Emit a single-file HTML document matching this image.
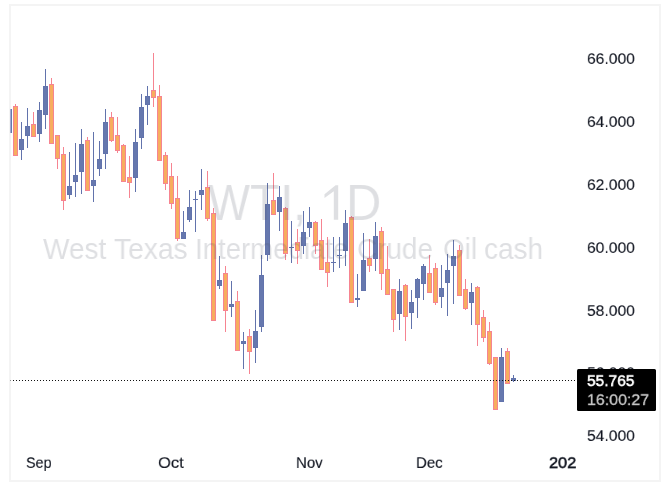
<!DOCTYPE html>
<html><head><meta charset="utf-8"><title>WTI 1D</title>
<style>
html,body{margin:0;padding:0;background:#fff;}
body{width:670px;height:500px;position:relative;overflow:hidden;font-family:"Liberation Sans",sans-serif;}
#frame{position:absolute;left:9px;top:4px;width:648px;height:474px;border:2px solid #f4f4f4;}
svg{position:absolute;left:0;top:0;}
#xclip{position:absolute;left:0;top:0;width:577px;height:500px;overflow:hidden;}
.t{position:absolute;white-space:nowrap;will-change:transform;transform-origin:0 0;color:#131722;}
.s{font-size:20px;line-height:20px;-webkit-text-stroke:0.15px #131722;}
.pl{left:587px;transform:scale(0.7828,0.76);}
.wm{color:rgba(80,85,100,0.19);}
.w1{top:177.9px;font-size:50.3px;line-height:50px;}
.w2{top:232.6px;font-size:29.4px;line-height:32px;}
#tag{position:absolute;left:577px;top:369px;width:79px;height:41.7px;background:#000;border-radius:1.5px;}
#tag .a{left:10.4px;top:3.7px;color:#fff;-webkit-text-stroke:0.75px #fff;transform:scale(0.7752,0.76);}
#tag .b{left:10px;top:22.9px;color:#c8c8c8;-webkit-text-stroke:0.4px #c8c8c8;transform:scale(0.7980,0.76);}
</style></head><body>
<div id="frame"></div>
<svg width="670" height="500" viewBox="0 0 670 500" shape-rendering="crispEdges">
<rect x="10" y="109" width="1" height="24" fill="#a3add0"/>
<rect x="11" y="109" width="1" height="24" fill="#6678ae"/>
<rect x="15" y="104" width="1" height="52" fill="#f68491"/>
<rect x="13" y="106" width="5" height="50" fill="#f68491"/>
<rect x="14" y="107" width="3" height="48" fill="#f7ad5e"/>
<rect x="21" y="122" width="1" height="38" fill="#6273ac"/>
<rect x="19" y="139" width="5" height="11" fill="#6273ac"/>
<rect x="20" y="140" width="3" height="9" fill="#6678ae"/>
<rect x="27" y="108" width="1" height="40" fill="#6273ac"/>
<rect x="25" y="126" width="5" height="10" fill="#6273ac"/>
<rect x="26" y="127" width="3" height="8" fill="#6678ae"/>
<rect x="33" y="112" width="1" height="25" fill="#f68491"/>
<rect x="31" y="124" width="5" height="13" fill="#f68491"/>
<rect x="32" y="125" width="3" height="11" fill="#f7ad5e"/>
<rect x="39" y="102" width="1" height="40" fill="#6273ac"/>
<rect x="37" y="110" width="5" height="24" fill="#6273ac"/>
<rect x="38" y="111" width="3" height="22" fill="#6678ae"/>
<rect x="45" y="69" width="1" height="60" fill="#6273ac"/>
<rect x="43" y="86" width="5" height="29" fill="#6273ac"/>
<rect x="44" y="87" width="3" height="27" fill="#6678ae"/>
<rect x="51" y="78" width="1" height="66" fill="#f68491"/>
<rect x="49" y="84" width="5" height="60" fill="#f68491"/>
<rect x="50" y="85" width="3" height="58" fill="#f7ad5e"/>
<rect x="57" y="135" width="1" height="34" fill="#f68491"/>
<rect x="55" y="135" width="5" height="24" fill="#f68491"/>
<rect x="56" y="136" width="3" height="22" fill="#f7ad5e"/>
<rect x="63" y="147" width="1" height="63" fill="#f68491"/>
<rect x="61" y="154" width="5" height="47" fill="#f68491"/>
<rect x="62" y="155" width="3" height="45" fill="#f7ad5e"/>
<rect x="69" y="152" width="1" height="47" fill="#6273ac"/>
<rect x="67" y="186" width="5" height="9" fill="#6273ac"/>
<rect x="68" y="187" width="3" height="7" fill="#6678ae"/>
<rect x="75" y="143" width="1" height="54" fill="#6273ac"/>
<rect x="73" y="175" width="5" height="7" fill="#6273ac"/>
<rect x="74" y="176" width="3" height="5" fill="#6678ae"/>
<rect x="81" y="129" width="1" height="65" fill="#6273ac"/>
<rect x="79" y="144" width="5" height="28" fill="#6273ac"/>
<rect x="80" y="145" width="3" height="26" fill="#6678ae"/>
<rect x="87" y="137" width="1" height="54" fill="#f68491"/>
<rect x="85" y="140" width="5" height="51" fill="#f68491"/>
<rect x="86" y="141" width="3" height="49" fill="#f7ad5e"/>
<rect x="93" y="132" width="1" height="70" fill="#6273ac"/>
<rect x="91" y="180" width="5" height="6" fill="#6273ac"/>
<rect x="92" y="181" width="3" height="4" fill="#6678ae"/>
<rect x="99" y="141" width="1" height="35" fill="#6273ac"/>
<rect x="97" y="159" width="5" height="10" fill="#6273ac"/>
<rect x="98" y="160" width="3" height="8" fill="#6678ae"/>
<rect x="105" y="109" width="1" height="60" fill="#6273ac"/>
<rect x="103" y="122" width="5" height="32" fill="#6273ac"/>
<rect x="104" y="123" width="3" height="30" fill="#6678ae"/>
<rect x="111" y="112" width="1" height="30" fill="#f68491"/>
<rect x="109" y="117" width="5" height="24" fill="#f68491"/>
<rect x="110" y="118" width="3" height="22" fill="#f7ad5e"/>
<rect x="117" y="117" width="1" height="36" fill="#f68491"/>
<rect x="115" y="135" width="5" height="16" fill="#f68491"/>
<rect x="116" y="136" width="3" height="14" fill="#f7ad5e"/>
<rect x="123" y="144" width="1" height="38" fill="#f68491"/>
<rect x="121" y="145" width="5" height="37" fill="#f68491"/>
<rect x="122" y="146" width="3" height="35" fill="#f7ad5e"/>
<rect x="129" y="156" width="1" height="42" fill="#f68491"/>
<rect x="127" y="177" width="5" height="6" fill="#f68491"/>
<rect x="128" y="178" width="3" height="4" fill="#f7ad5e"/>
<rect x="135" y="129" width="1" height="63" fill="#6273ac"/>
<rect x="133" y="142" width="5" height="36" fill="#6273ac"/>
<rect x="134" y="143" width="3" height="34" fill="#6678ae"/>
<rect x="141" y="94" width="1" height="55" fill="#6273ac"/>
<rect x="139" y="107" width="5" height="31" fill="#6273ac"/>
<rect x="140" y="108" width="3" height="29" fill="#6678ae"/>
<rect x="147" y="86" width="1" height="39" fill="#6273ac"/>
<rect x="145" y="96" width="5" height="9" fill="#6273ac"/>
<rect x="146" y="97" width="3" height="7" fill="#6678ae"/>
<rect x="153" y="53" width="1" height="54" fill="#f68491"/>
<rect x="151" y="90" width="5" height="8" fill="#f68491"/>
<rect x="152" y="91" width="3" height="6" fill="#f7ad5e"/>
<rect x="159" y="85" width="1" height="76" fill="#f68491"/>
<rect x="157" y="96" width="5" height="65" fill="#f68491"/>
<rect x="158" y="97" width="3" height="63" fill="#f7ad5e"/>
<rect x="165" y="152" width="1" height="38" fill="#f68491"/>
<rect x="163" y="155" width="5" height="29" fill="#f68491"/>
<rect x="164" y="156" width="3" height="27" fill="#f7ad5e"/>
<rect x="171" y="163" width="1" height="46" fill="#f68491"/>
<rect x="169" y="176" width="5" height="28" fill="#f68491"/>
<rect x="170" y="177" width="3" height="26" fill="#f7ad5e"/>
<rect x="177" y="176" width="1" height="65" fill="#f68491"/>
<rect x="175" y="198" width="5" height="41" fill="#f68491"/>
<rect x="176" y="199" width="3" height="39" fill="#f7ad5e"/>
<rect x="183" y="211" width="1" height="28" fill="#6273ac"/>
<rect x="181" y="232" width="5" height="7" fill="#6273ac"/>
<rect x="182" y="233" width="3" height="5" fill="#6678ae"/>
<rect x="189" y="190" width="1" height="32" fill="#6273ac"/>
<rect x="187" y="207" width="5" height="13" fill="#6273ac"/>
<rect x="188" y="208" width="3" height="11" fill="#6678ae"/>
<rect x="195" y="191" width="1" height="41" fill="#6273ac"/>
<rect x="193" y="199" width="5" height="1" fill="#6273ac"/>
<rect x="201" y="169" width="1" height="41" fill="#6273ac"/>
<rect x="199" y="190" width="5" height="5" fill="#6273ac"/>
<rect x="200" y="191" width="3" height="3" fill="#6678ae"/>
<rect x="207" y="171" width="1" height="50" fill="#f68491"/>
<rect x="205" y="187" width="5" height="32" fill="#f68491"/>
<rect x="206" y="188" width="3" height="30" fill="#f7ad5e"/>
<rect x="213" y="208" width="1" height="113" fill="#f68491"/>
<rect x="211" y="213" width="5" height="108" fill="#f68491"/>
<rect x="212" y="214" width="3" height="106" fill="#f7ad5e"/>
<rect x="219" y="256" width="1" height="33" fill="#6273ac"/>
<rect x="217" y="280" width="5" height="6" fill="#6273ac"/>
<rect x="218" y="281" width="3" height="4" fill="#6678ae"/>
<rect x="225" y="266" width="1" height="66" fill="#f68491"/>
<rect x="223" y="273" width="5" height="38" fill="#f68491"/>
<rect x="224" y="274" width="3" height="36" fill="#f7ad5e"/>
<rect x="231" y="281" width="1" height="36" fill="#6273ac"/>
<rect x="229" y="304" width="5" height="3" fill="#6273ac"/>
<rect x="230" y="305" width="3" height="1" fill="#6678ae"/>
<rect x="237" y="291" width="1" height="60" fill="#f68491"/>
<rect x="235" y="301" width="5" height="50" fill="#f68491"/>
<rect x="236" y="302" width="3" height="48" fill="#f7ad5e"/>
<rect x="243" y="332" width="1" height="37" fill="#6273ac"/>
<rect x="241" y="341" width="5" height="3" fill="#6273ac"/>
<rect x="242" y="342" width="3" height="1" fill="#6678ae"/>
<rect x="249" y="329" width="1" height="45" fill="#f68491"/>
<rect x="247" y="336" width="5" height="16" fill="#f68491"/>
<rect x="248" y="337" width="3" height="14" fill="#f7ad5e"/>
<rect x="255" y="310" width="1" height="53" fill="#6273ac"/>
<rect x="253" y="331" width="5" height="17" fill="#6273ac"/>
<rect x="254" y="332" width="3" height="15" fill="#6678ae"/>
<rect x="261" y="255" width="1" height="77" fill="#6273ac"/>
<rect x="259" y="275" width="5" height="52" fill="#6273ac"/>
<rect x="260" y="276" width="3" height="50" fill="#6678ae"/>
<rect x="267" y="183" width="1" height="78" fill="#6273ac"/>
<rect x="265" y="204" width="5" height="51" fill="#6273ac"/>
<rect x="266" y="205" width="3" height="49" fill="#6678ae"/>
<rect x="273" y="173" width="1" height="42" fill="#f68491"/>
<rect x="271" y="200" width="5" height="15" fill="#f68491"/>
<rect x="272" y="201" width="3" height="13" fill="#f7ad5e"/>
<rect x="279" y="186" width="1" height="45" fill="#6273ac"/>
<rect x="277" y="197" width="5" height="15" fill="#6273ac"/>
<rect x="278" y="198" width="3" height="13" fill="#6678ae"/>
<rect x="285" y="207" width="1" height="53" fill="#f68491"/>
<rect x="283" y="208" width="5" height="46" fill="#f68491"/>
<rect x="284" y="209" width="3" height="44" fill="#f7ad5e"/>
<rect x="291" y="221" width="1" height="42" fill="#6273ac"/>
<rect x="289" y="247" width="5" height="1" fill="#6273ac"/>
<rect x="297" y="229" width="1" height="35" fill="#f68491"/>
<rect x="295" y="242" width="5" height="9" fill="#f68491"/>
<rect x="296" y="243" width="3" height="7" fill="#f7ad5e"/>
<rect x="303" y="211" width="1" height="43" fill="#6273ac"/>
<rect x="301" y="232" width="5" height="14" fill="#6273ac"/>
<rect x="302" y="233" width="3" height="12" fill="#6678ae"/>
<rect x="309" y="207" width="1" height="30" fill="#6273ac"/>
<rect x="307" y="222" width="5" height="6" fill="#6273ac"/>
<rect x="308" y="223" width="3" height="4" fill="#6678ae"/>
<rect x="315" y="221" width="1" height="33" fill="#f68491"/>
<rect x="313" y="222" width="5" height="24" fill="#f68491"/>
<rect x="314" y="223" width="3" height="22" fill="#f7ad5e"/>
<rect x="321" y="219" width="1" height="51" fill="#f68491"/>
<rect x="319" y="240" width="5" height="30" fill="#f68491"/>
<rect x="320" y="241" width="3" height="28" fill="#f7ad5e"/>
<rect x="327" y="237" width="1" height="50" fill="#f68491"/>
<rect x="325" y="262" width="5" height="11" fill="#f68491"/>
<rect x="326" y="263" width="3" height="9" fill="#f7ad5e"/>
<rect x="333" y="237" width="1" height="35" fill="#6273ac"/>
<rect x="331" y="262" width="5" height="1" fill="#6273ac"/>
<rect x="339" y="237" width="1" height="31" fill="#6273ac"/>
<rect x="337" y="255" width="5" height="1" fill="#6273ac"/>
<rect x="345" y="210" width="1" height="56" fill="#6273ac"/>
<rect x="343" y="223" width="5" height="28" fill="#6273ac"/>
<rect x="344" y="224" width="3" height="26" fill="#6678ae"/>
<rect x="351" y="216" width="1" height="87" fill="#f68491"/>
<rect x="349" y="217" width="5" height="86" fill="#f68491"/>
<rect x="350" y="218" width="3" height="84" fill="#f7ad5e"/>
<rect x="357" y="274" width="1" height="33" fill="#6273ac"/>
<rect x="355" y="298" width="5" height="2" fill="#6273ac"/>
<rect x="363" y="233" width="1" height="58" fill="#6273ac"/>
<rect x="361" y="260" width="5" height="31" fill="#6273ac"/>
<rect x="362" y="261" width="3" height="29" fill="#6678ae"/>
<rect x="369" y="239" width="1" height="33" fill="#f68491"/>
<rect x="367" y="258" width="5" height="8" fill="#f68491"/>
<rect x="368" y="259" width="3" height="6" fill="#f7ad5e"/>
<rect x="375" y="222" width="1" height="49" fill="#6273ac"/>
<rect x="373" y="236" width="5" height="23" fill="#6273ac"/>
<rect x="374" y="237" width="3" height="21" fill="#6678ae"/>
<rect x="381" y="227" width="1" height="63" fill="#f68491"/>
<rect x="379" y="231" width="5" height="43" fill="#f68491"/>
<rect x="380" y="232" width="3" height="41" fill="#f7ad5e"/>
<rect x="387" y="246" width="1" height="49" fill="#f68491"/>
<rect x="385" y="269" width="5" height="26" fill="#f68491"/>
<rect x="386" y="270" width="3" height="24" fill="#f7ad5e"/>
<rect x="393" y="289" width="1" height="43" fill="#f68491"/>
<rect x="391" y="289" width="5" height="31" fill="#f68491"/>
<rect x="392" y="290" width="3" height="29" fill="#f7ad5e"/>
<rect x="399" y="279" width="1" height="51" fill="#6273ac"/>
<rect x="397" y="291" width="5" height="23" fill="#6273ac"/>
<rect x="398" y="292" width="3" height="21" fill="#6678ae"/>
<rect x="405" y="284" width="1" height="57" fill="#f68491"/>
<rect x="403" y="285" width="5" height="32" fill="#f68491"/>
<rect x="404" y="286" width="3" height="30" fill="#f7ad5e"/>
<rect x="411" y="290" width="1" height="39" fill="#6273ac"/>
<rect x="409" y="302" width="5" height="11" fill="#6273ac"/>
<rect x="410" y="303" width="3" height="9" fill="#6678ae"/>
<rect x="417" y="278" width="1" height="40" fill="#6273ac"/>
<rect x="415" y="279" width="5" height="19" fill="#6273ac"/>
<rect x="416" y="280" width="3" height="17" fill="#6678ae"/>
<rect x="423" y="264" width="1" height="36" fill="#6273ac"/>
<rect x="421" y="266" width="5" height="18" fill="#6273ac"/>
<rect x="422" y="267" width="3" height="16" fill="#6678ae"/>
<rect x="429" y="255" width="1" height="38" fill="#f68491"/>
<rect x="427" y="273" width="5" height="20" fill="#f68491"/>
<rect x="428" y="274" width="3" height="18" fill="#f7ad5e"/>
<rect x="435" y="263" width="1" height="42" fill="#f68491"/>
<rect x="433" y="268" width="5" height="35" fill="#f68491"/>
<rect x="434" y="269" width="3" height="33" fill="#f7ad5e"/>
<rect x="441" y="265" width="1" height="43" fill="#6273ac"/>
<rect x="439" y="288" width="5" height="9" fill="#6273ac"/>
<rect x="440" y="289" width="3" height="7" fill="#6678ae"/>
<rect x="447" y="254" width="1" height="62" fill="#6273ac"/>
<rect x="445" y="270" width="5" height="13" fill="#6273ac"/>
<rect x="446" y="271" width="3" height="11" fill="#6678ae"/>
<rect x="453" y="240" width="1" height="64" fill="#6273ac"/>
<rect x="451" y="256" width="5" height="10" fill="#6273ac"/>
<rect x="452" y="257" width="3" height="8" fill="#6678ae"/>
<rect x="459" y="245" width="1" height="51" fill="#f68491"/>
<rect x="457" y="250" width="5" height="46" fill="#f68491"/>
<rect x="458" y="251" width="3" height="44" fill="#f7ad5e"/>
<rect x="465" y="279" width="1" height="31" fill="#f68491"/>
<rect x="463" y="289" width="5" height="20" fill="#f68491"/>
<rect x="464" y="290" width="3" height="18" fill="#f7ad5e"/>
<rect x="471" y="283" width="1" height="42" fill="#6273ac"/>
<rect x="469" y="292" width="5" height="11" fill="#6273ac"/>
<rect x="470" y="293" width="3" height="9" fill="#6678ae"/>
<rect x="477" y="286" width="1" height="60" fill="#f68491"/>
<rect x="475" y="287" width="5" height="38" fill="#f68491"/>
<rect x="476" y="288" width="3" height="36" fill="#f7ad5e"/>
<rect x="483" y="310" width="1" height="32" fill="#f68491"/>
<rect x="481" y="317" width="5" height="21" fill="#f68491"/>
<rect x="482" y="318" width="3" height="19" fill="#f7ad5e"/>
<rect x="489" y="322" width="1" height="43" fill="#f68491"/>
<rect x="487" y="331" width="5" height="33" fill="#f68491"/>
<rect x="488" y="332" width="3" height="31" fill="#f7ad5e"/>
<rect x="495" y="357" width="1" height="53" fill="#f68491"/>
<rect x="493" y="357" width="5" height="53" fill="#f68491"/>
<rect x="494" y="358" width="3" height="51" fill="#f7ad5e"/>
<rect x="501" y="348" width="1" height="54" fill="#6273ac"/>
<rect x="499" y="357" width="5" height="45" fill="#6273ac"/>
<rect x="500" y="358" width="3" height="43" fill="#6678ae"/>
<rect x="507" y="348" width="1" height="36" fill="#f68491"/>
<rect x="505" y="351" width="5" height="33" fill="#f68491"/>
<rect x="506" y="352" width="3" height="31" fill="#f7ad5e"/>
<rect x="513" y="375" width="1" height="7" fill="#6273ac"/>
<rect x="511" y="378" width="5" height="3" fill="#6273ac"/>
<rect x="512" y="379" width="3" height="1" fill="#6678ae"/>
<rect x="10" y="380" width="1" height="1" fill="#8c8c8c"/><rect x="13" y="380" width="1" height="1" fill="#111"/><rect x="16" y="380" width="1" height="1" fill="#111"/><rect x="19" y="380" width="1" height="1" fill="#111"/><rect x="22" y="380" width="1" height="1" fill="#111"/><rect x="25" y="380" width="1" height="1" fill="#111"/><rect x="28" y="380" width="1" height="1" fill="#111"/><rect x="31" y="380" width="1" height="1" fill="#111"/><rect x="34" y="380" width="1" height="1" fill="#111"/><rect x="37" y="380" width="1" height="1" fill="#111"/><rect x="40" y="380" width="1" height="1" fill="#111"/><rect x="43" y="380" width="1" height="1" fill="#111"/><rect x="46" y="380" width="1" height="1" fill="#111"/><rect x="49" y="380" width="1" height="1" fill="#111"/><rect x="52" y="380" width="1" height="1" fill="#111"/><rect x="55" y="380" width="1" height="1" fill="#111"/><rect x="58" y="380" width="1" height="1" fill="#111"/><rect x="61" y="380" width="1" height="1" fill="#111"/><rect x="64" y="380" width="1" height="1" fill="#111"/><rect x="67" y="380" width="1" height="1" fill="#111"/><rect x="70" y="380" width="1" height="1" fill="#111"/><rect x="73" y="380" width="1" height="1" fill="#111"/><rect x="76" y="380" width="1" height="1" fill="#111"/><rect x="79" y="380" width="1" height="1" fill="#111"/><rect x="82" y="380" width="1" height="1" fill="#111"/><rect x="85" y="380" width="1" height="1" fill="#111"/><rect x="88" y="380" width="1" height="1" fill="#111"/><rect x="91" y="380" width="1" height="1" fill="#111"/><rect x="94" y="380" width="1" height="1" fill="#111"/><rect x="97" y="380" width="1" height="1" fill="#111"/><rect x="100" y="380" width="1" height="1" fill="#111"/><rect x="103" y="380" width="1" height="1" fill="#111"/><rect x="106" y="380" width="1" height="1" fill="#111"/><rect x="109" y="380" width="1" height="1" fill="#111"/><rect x="112" y="380" width="1" height="1" fill="#111"/><rect x="115" y="380" width="1" height="1" fill="#111"/><rect x="118" y="380" width="1" height="1" fill="#111"/><rect x="121" y="380" width="1" height="1" fill="#111"/><rect x="124" y="380" width="1" height="1" fill="#111"/><rect x="127" y="380" width="1" height="1" fill="#111"/><rect x="130" y="380" width="1" height="1" fill="#111"/><rect x="133" y="380" width="1" height="1" fill="#111"/><rect x="136" y="380" width="1" height="1" fill="#111"/><rect x="139" y="380" width="1" height="1" fill="#111"/><rect x="142" y="380" width="1" height="1" fill="#111"/><rect x="145" y="380" width="1" height="1" fill="#111"/><rect x="148" y="380" width="1" height="1" fill="#111"/><rect x="151" y="380" width="1" height="1" fill="#111"/><rect x="154" y="380" width="1" height="1" fill="#111"/><rect x="157" y="380" width="1" height="1" fill="#111"/><rect x="160" y="380" width="1" height="1" fill="#111"/><rect x="163" y="380" width="1" height="1" fill="#111"/><rect x="166" y="380" width="1" height="1" fill="#111"/><rect x="169" y="380" width="1" height="1" fill="#111"/><rect x="172" y="380" width="1" height="1" fill="#111"/><rect x="175" y="380" width="1" height="1" fill="#111"/><rect x="178" y="380" width="1" height="1" fill="#111"/><rect x="181" y="380" width="1" height="1" fill="#111"/><rect x="184" y="380" width="1" height="1" fill="#111"/><rect x="187" y="380" width="1" height="1" fill="#111"/><rect x="190" y="380" width="1" height="1" fill="#111"/><rect x="193" y="380" width="1" height="1" fill="#111"/><rect x="196" y="380" width="1" height="1" fill="#111"/><rect x="199" y="380" width="1" height="1" fill="#111"/><rect x="202" y="380" width="1" height="1" fill="#111"/><rect x="205" y="380" width="1" height="1" fill="#111"/><rect x="208" y="380" width="1" height="1" fill="#111"/><rect x="211" y="380" width="1" height="1" fill="#111"/><rect x="214" y="380" width="1" height="1" fill="#111"/><rect x="217" y="380" width="1" height="1" fill="#111"/><rect x="220" y="380" width="1" height="1" fill="#111"/><rect x="223" y="380" width="1" height="1" fill="#111"/><rect x="226" y="380" width="1" height="1" fill="#111"/><rect x="229" y="380" width="1" height="1" fill="#111"/><rect x="232" y="380" width="1" height="1" fill="#111"/><rect x="235" y="380" width="1" height="1" fill="#111"/><rect x="238" y="380" width="1" height="1" fill="#111"/><rect x="241" y="380" width="1" height="1" fill="#111"/><rect x="244" y="380" width="1" height="1" fill="#111"/><rect x="247" y="380" width="1" height="1" fill="#111"/><rect x="250" y="380" width="1" height="1" fill="#111"/><rect x="253" y="380" width="1" height="1" fill="#111"/><rect x="256" y="380" width="1" height="1" fill="#111"/><rect x="259" y="380" width="1" height="1" fill="#111"/><rect x="262" y="380" width="1" height="1" fill="#111"/><rect x="265" y="380" width="1" height="1" fill="#111"/><rect x="268" y="380" width="1" height="1" fill="#111"/><rect x="271" y="380" width="1" height="1" fill="#111"/><rect x="274" y="380" width="1" height="1" fill="#111"/><rect x="277" y="380" width="1" height="1" fill="#111"/><rect x="280" y="380" width="1" height="1" fill="#111"/><rect x="283" y="380" width="1" height="1" fill="#111"/><rect x="286" y="380" width="1" height="1" fill="#111"/><rect x="289" y="380" width="1" height="1" fill="#111"/><rect x="292" y="380" width="1" height="1" fill="#111"/><rect x="295" y="380" width="1" height="1" fill="#111"/><rect x="298" y="380" width="1" height="1" fill="#111"/><rect x="301" y="380" width="1" height="1" fill="#111"/><rect x="304" y="380" width="1" height="1" fill="#111"/><rect x="307" y="380" width="1" height="1" fill="#111"/><rect x="310" y="380" width="1" height="1" fill="#111"/><rect x="313" y="380" width="1" height="1" fill="#111"/><rect x="316" y="380" width="1" height="1" fill="#111"/><rect x="319" y="380" width="1" height="1" fill="#111"/><rect x="322" y="380" width="1" height="1" fill="#111"/><rect x="325" y="380" width="1" height="1" fill="#111"/><rect x="328" y="380" width="1" height="1" fill="#111"/><rect x="331" y="380" width="1" height="1" fill="#111"/><rect x="334" y="380" width="1" height="1" fill="#111"/><rect x="337" y="380" width="1" height="1" fill="#111"/><rect x="340" y="380" width="1" height="1" fill="#111"/><rect x="343" y="380" width="1" height="1" fill="#111"/><rect x="346" y="380" width="1" height="1" fill="#111"/><rect x="349" y="380" width="1" height="1" fill="#111"/><rect x="352" y="380" width="1" height="1" fill="#111"/><rect x="355" y="380" width="1" height="1" fill="#111"/><rect x="358" y="380" width="1" height="1" fill="#111"/><rect x="361" y="380" width="1" height="1" fill="#111"/><rect x="364" y="380" width="1" height="1" fill="#111"/><rect x="367" y="380" width="1" height="1" fill="#111"/><rect x="370" y="380" width="1" height="1" fill="#111"/><rect x="373" y="380" width="1" height="1" fill="#111"/><rect x="376" y="380" width="1" height="1" fill="#111"/><rect x="379" y="380" width="1" height="1" fill="#111"/><rect x="382" y="380" width="1" height="1" fill="#111"/><rect x="385" y="380" width="1" height="1" fill="#111"/><rect x="388" y="380" width="1" height="1" fill="#111"/><rect x="391" y="380" width="1" height="1" fill="#111"/><rect x="394" y="380" width="1" height="1" fill="#111"/><rect x="397" y="380" width="1" height="1" fill="#111"/><rect x="400" y="380" width="1" height="1" fill="#111"/><rect x="403" y="380" width="1" height="1" fill="#111"/><rect x="406" y="380" width="1" height="1" fill="#111"/><rect x="409" y="380" width="1" height="1" fill="#111"/><rect x="412" y="380" width="1" height="1" fill="#111"/><rect x="415" y="380" width="1" height="1" fill="#111"/><rect x="418" y="380" width="1" height="1" fill="#111"/><rect x="421" y="380" width="1" height="1" fill="#111"/><rect x="424" y="380" width="1" height="1" fill="#111"/><rect x="427" y="380" width="1" height="1" fill="#111"/><rect x="430" y="380" width="1" height="1" fill="#111"/><rect x="433" y="380" width="1" height="1" fill="#111"/><rect x="436" y="380" width="1" height="1" fill="#111"/><rect x="439" y="380" width="1" height="1" fill="#111"/><rect x="442" y="380" width="1" height="1" fill="#111"/><rect x="445" y="380" width="1" height="1" fill="#111"/><rect x="448" y="380" width="1" height="1" fill="#111"/><rect x="451" y="380" width="1" height="1" fill="#111"/><rect x="454" y="380" width="1" height="1" fill="#111"/><rect x="457" y="380" width="1" height="1" fill="#111"/><rect x="460" y="380" width="1" height="1" fill="#111"/><rect x="463" y="380" width="1" height="1" fill="#111"/><rect x="466" y="380" width="1" height="1" fill="#111"/><rect x="469" y="380" width="1" height="1" fill="#111"/><rect x="472" y="380" width="1" height="1" fill="#111"/><rect x="475" y="380" width="1" height="1" fill="#111"/><rect x="478" y="380" width="1" height="1" fill="#111"/><rect x="481" y="380" width="1" height="1" fill="#111"/><rect x="484" y="380" width="1" height="1" fill="#111"/><rect x="487" y="380" width="1" height="1" fill="#111"/><rect x="490" y="380" width="1" height="1" fill="#111"/><rect x="493" y="380" width="1" height="1" fill="#111"/><rect x="496" y="380" width="1" height="1" fill="#111"/><rect x="499" y="380" width="1" height="1" fill="#111"/><rect x="502" y="380" width="1" height="1" fill="#111"/><rect x="505" y="380" width="1" height="1" fill="#111"/><rect x="508" y="380" width="1" height="1" fill="#111"/><rect x="511" y="380" width="1" height="1" fill="#111"/><rect x="514" y="380" width="1" height="1" fill="#111"/><rect x="517" y="380" width="1" height="1" fill="#111"/><rect x="520" y="380" width="1" height="1" fill="#111"/><rect x="523" y="380" width="1" height="1" fill="#111"/><rect x="526" y="380" width="1" height="1" fill="#111"/><rect x="529" y="380" width="1" height="1" fill="#111"/><rect x="532" y="380" width="1" height="1" fill="#111"/><rect x="535" y="380" width="1" height="1" fill="#111"/><rect x="538" y="380" width="1" height="1" fill="#111"/><rect x="541" y="380" width="1" height="1" fill="#111"/><rect x="544" y="380" width="1" height="1" fill="#111"/><rect x="547" y="380" width="1" height="1" fill="#111"/><rect x="550" y="380" width="1" height="1" fill="#111"/><rect x="553" y="380" width="1" height="1" fill="#111"/><rect x="556" y="380" width="1" height="1" fill="#111"/><rect x="559" y="380" width="1" height="1" fill="#111"/><rect x="562" y="380" width="1" height="1" fill="#111"/><rect x="565" y="380" width="1" height="1" fill="#111"/><rect x="568" y="380" width="1" height="1" fill="#111"/><rect x="571" y="380" width="1" height="1" fill="#111"/><rect x="574" y="380" width="1" height="1" fill="#111"/>
</svg>
<div class="t wm w1" style="left:207.86px;transform:scaleX(0.8831)">W</div>
<div class="t wm w1" style="left:250.41px;transform:scaleX(0.9540)">T</div>
<div class="t wm w1" style="left:280.03px;transform:scaleX(0.9627)">I</div>
<div class="t wm w1" style="left:292.59px;transform:scaleX(0.9429)">,</div>
<div class="t wm w1" style="left:345.57px;transform:scaleX(0.9725)">D</div>
<svg width="670" height="500" viewBox="0 0 670 500"><polygon points="324.5,194.2 335.6,185.2 338.2,185.2 338.2,219.8 333.8,219.8 333.8,191.2 324.5,198" fill="rgba(80,85,100,0.19)"/></svg>

<div class="t wm w2" style="left:42.70px;transform:scaleX(0.9530)">West</div>
<div class="t wm w2" style="left:113.77px;transform:scaleX(0.9597)">Texas</div>
<div class="t wm w2" style="left:195.44px;transform:scaleX(0.9386)">Intermediate</div>
<div class="t wm w2" style="left:357.30px;transform:scaleX(0.9489)">Crude</div>
<div class="t wm w2" style="left:442.76px;transform:scaleX(0.9494)">Oil</div>
<div class="t wm w2" style="left:483.99px;transform:scaleX(0.9511)">cash</div>

<div class="t s pl" style="top:51.40px">66.000</div>
<div class="t s pl" style="top:114.30px">64.000</div>
<div class="t s pl" style="top:177.30px">62.000</div>
<div class="t s pl" style="top:240.30px">60.000</div>
<div class="t s pl" style="top:303.30px">58.000</div>
<div class="t s pl" style="top:365.30px">56.000</div>
<div class="t s pl" style="top:428.30px">54.000</div>
<div id="xclip"><div class="t s" style="left:26px;top:454.9px;transform:scale(0.7182,0.76);">Sep</div>
<div class="t s" style="left:158px;top:454.9px;transform:scale(0.8284,0.76);">Oct</div>
<div class="t s" style="left:296px;top:454.9px;transform:scale(0.7501,0.76);">Nov</div>
<div class="t s" style="left:416px;top:454.9px;transform:scale(0.7501,0.76);">Dec</div>
<div class="t s" style="left:549.0px;top:454.9px;transform:scale(0.8170,0.76);-webkit-text-stroke:0.75px #131722;">202</div></div>
<div id="tag"><div class="t s a">55.765</div><div class="t s b">16:00:27</div></div>
</body></html>
